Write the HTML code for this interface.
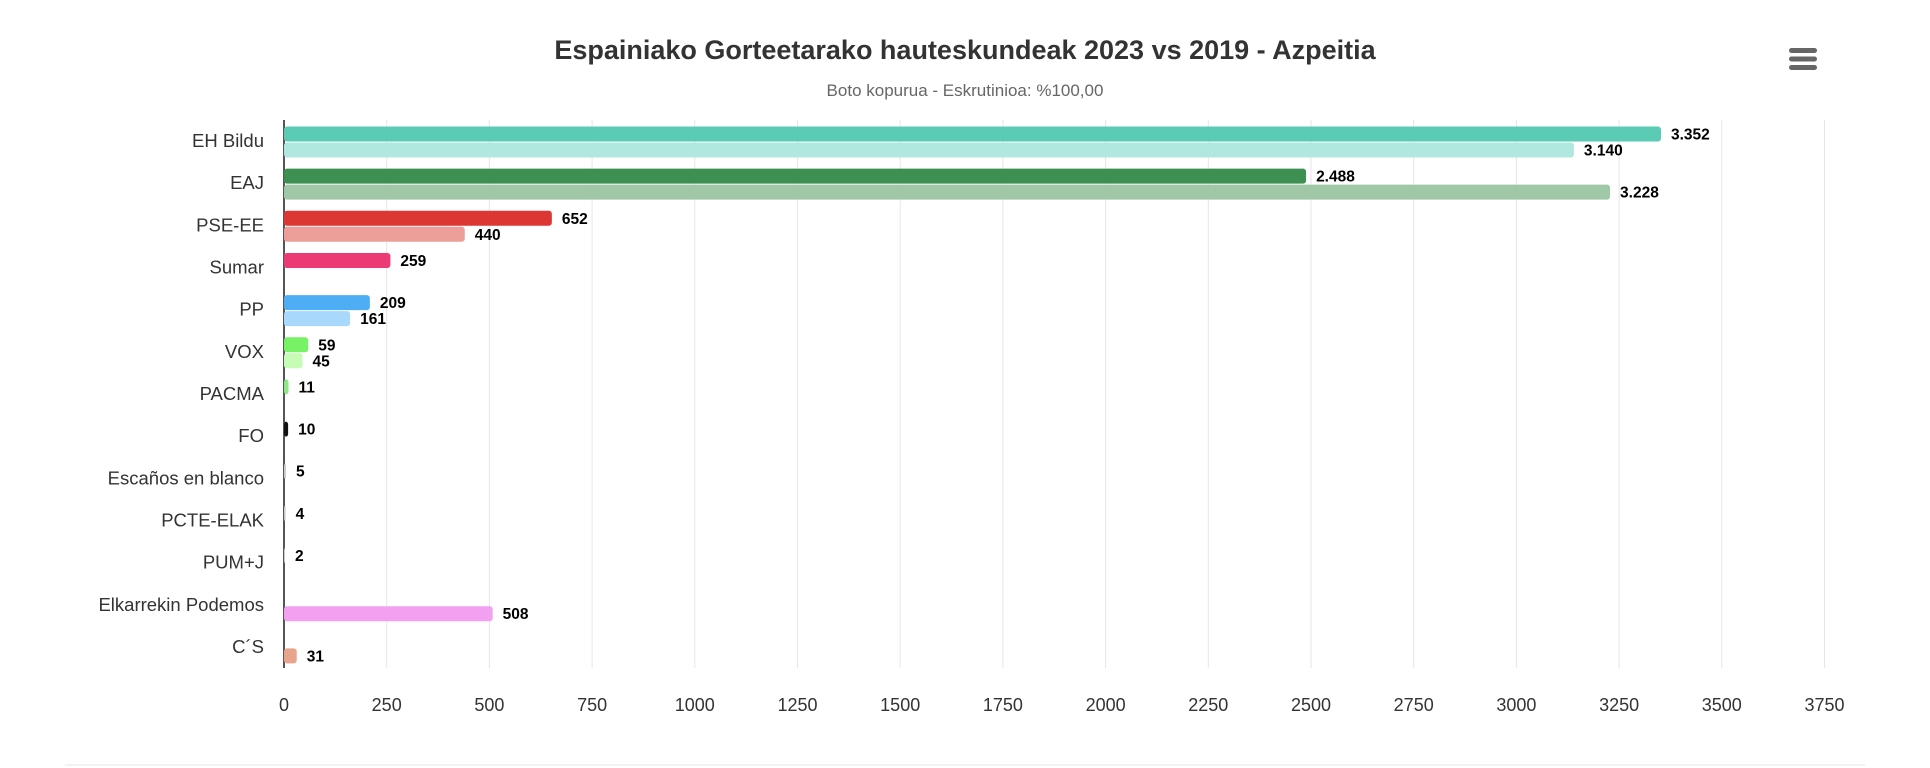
<!DOCTYPE html>
<html><head><meta charset="utf-8"><style>
body{margin:0;background:#fff;font-family:"Liberation Sans",Arial,sans-serif}
svg{display:block}
</style></head><body>
<svg id="chart" width="1930" height="768" xmlns="http://www.w3.org/2000/svg">
<text x="965" y="59" text-anchor="middle" font-size="27" font-weight="bold" fill="#333">Espainiako Gorteetarako hauteskundeak 2023 vs 2019 - Azpeitia</text>
<text x="965" y="96" text-anchor="middle" font-size="17" fill="#666">Boto kopurua - Eskrutinioa: %100,00</text>
<g>
<rect x="1789" y="48" width="28" height="5" rx="2.5" fill="#666"/>
<rect x="1789" y="56.5" width="28" height="5" rx="2.5" fill="#666"/>
<rect x="1789" y="65" width="28" height="5" rx="2.5" fill="#666"/>
</g>
<g id="grid"></g><g id="bars"></g><g id="labels"></g>
<line x1="65" y1="765" x2="1865" y2="765" stroke="#e6e6e6"/>
</svg>
<script>
const categories=["EH Bildu","EAJ","PSE-EE","Sumar","PP","VOX","PACMA","FO","Escaños en blanco","PCTE-ELAK","PUM+J","Elkarrekin Podemos","C´S"];
const votes2023=[3352,2488,652,259,209,59,11,10,5,4,2,null,null];
const votes2019=[3140,3228,440,null,161,45,null,null,null,null,null,508,31];
const colors2023=["#5bcbb5","#3d8f52","#dc3732","#eb3a74","#4eaef5","#77f266","#8ee88a","#111","#ccc","#ccc","#ccc","#f3a0f0","#e8a48c"];
const colors2019=["#b0e7de","#a0c8a6","#ed9e98","#f5a0bb","#a8d8fc","#c6fcb6","#c9f5c6","#888","#ddd","#ddd","#ddd","#f3a0f0","#e8a48c"];
const ticks=[0,250,500,750,1000,1250,1500,1750,2000,2250,2500,2750,3000,3250,3500,3750];
const NS="http://www.w3.org/2000/svg";
const x0=284,pxPer=102.7/250,top0=120,bottom=668,band=(bottom-top0)/categories.length;
const xs=v=>x0+v*pxPer;
const fmt=v=>v>=1000?String(v).replace(/(\d)(\d{3})$/,"$1.$2"):String(v);
function mk(tag,attrs,parent){const e=document.createElementNS(NS,tag);for(const k in attrs)e.setAttribute(k,attrs[k]);parent.appendChild(e);return e;}
const grid=document.getElementById("grid"),bars=document.getElementById("bars"),labels=document.getElementById("labels");
ticks.forEach(t=>{
 const l=mk("line",{x1:xs(t),x2:xs(t),y1:top0,y2:bottom,stroke:"#e6e6e6","stroke-width":1},grid);
 
 
 const tx=mk("text",{x:xs(t),y:711,"text-anchor":"middle","font-size":18,fill:"#333"},labels);
 tx.textContent=t;
 
 
});
const ax=mk("line",{x1:x0,x2:x0,y1:top0,y2:bottom,stroke:"#555","stroke-width":2},grid);


categories.forEach((c,i)=>{
 const by=top0+i*band;
 const t=mk("text",{x:264,y:by+band/2+6,"text-anchor":"end","font-size":18.5,fill:"#333"},labels);
 t.textContent=c;
 
 
 [[votes2023,colors2023,6.5],[votes2019,colors2019,22.5]].forEach(([arr,col,off],s)=>{
  const v=arr[i]; if(v===null)return;
  const w=Math.max(xs(v)-x0,1);
  const r=mk("rect",{x:x0,y:by+off,width:w,height:15,rx:3,fill:col[i]},bars);
  
  
  const lt=mk("text",{x:x0+w+10,y:by+off+13,"font-size":15.5,"font-weight":"bold",fill:"#000"},labels);
  lt.textContent=fmt(v);
  
  
 });
});
</script>
</body></html>
